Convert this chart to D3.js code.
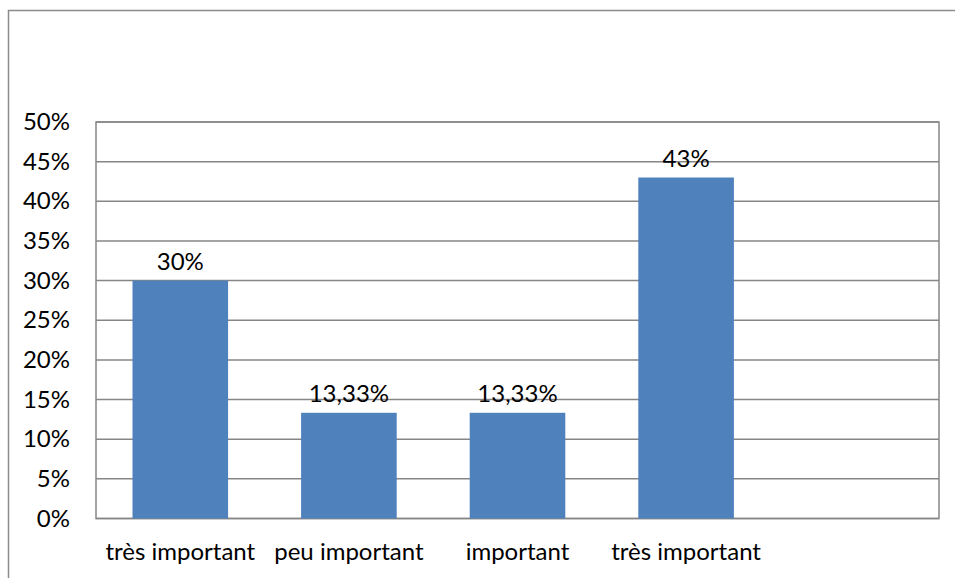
<!DOCTYPE html>
<html>
<head>
<meta charset="utf-8">
<script src="https://cdn.jsdelivr.net/npm/d3@7"></script>
<style>
  html, body { margin: 0; padding: 0; background: #fff; }
  svg { display: block; }
  text { font-family: Lato, "Open Sans", sans-serif; fill: #000; }
</style>
</head>
<body>
<svg id="chart" width="955" height="578"></svg>
<script>
// Response shares by level of importance (last slot is left empty)
const categories = ["très important", "peu important", "important", "très important", ""];
const values = [30, 13.33, 13.33, 43, null];
const valueLabels = ["30%", "13,33%", "13,33%", "43%", ""];
const yTicks = [0, 5, 10, 15, 20, 25, 30, 35, 40, 45, 50];

const FONT = "Lato, 'Open Sans', sans-serif";
const FONT_SIZE = "24px";

const svg = d3.select("#chart");
const plot = { left: 96, right: 939, top: 122, bottom: 518.5 };

// Outer frame (runs off the right and bottom edges)
svg.append("rect")
  .attr("x", 8.5).attr("y", 10.5)
  .attr("width", 980).attr("height", 620)
  .attr("fill", "none")
  .attr("stroke", "#8c8c8c")
  .attr("stroke-width", 1.5);

const x = d3.scaleBand()
  .domain(d3.range(categories.length))
  .range([plot.left, plot.right])
  .padding(0);

const y = d3.scaleLinear()
  .domain([0, 50])
  .range([plot.bottom, plot.top]);

const barW = x.step() * 0.567;

// Horizontal gridlines
svg.append("g")
  .selectAll("line")
  .data(yTicks)
  .join("line")
  .attr("x1", plot.left).attr("x2", plot.right)
  .attr("y1", d => y(d)).attr("y2", d => y(d))
  .attr("stroke", "#868686")
  .attr("stroke-width", 1.5);

// Plot-area border
svg.append("rect")
  .attr("x", plot.left).attr("y", plot.top)
  .attr("width", plot.right - plot.left)
  .attr("height", plot.bottom - plot.top)
  .attr("fill", "none")
  .attr("stroke", "#868686")
  .attr("stroke-width", 1.5);

// Y-axis tick labels
const yAxis = d3.axisLeft(y)
  .tickValues(yTicks)
  .tickFormat(d => d + "%")
  .tickSize(0)
  .tickPadding(26);
const gy = svg.append("g")
  .attr("transform", `translate(${plot.left},0)`)
  .call(yAxis);
gy.select(".domain").remove();
gy.selectAll("text")
  .style("font-family", FONT)
  .style("font-size", FONT_SIZE)
  .attr("fill", "#000");

// Bars
const barData = values.map((v, i) => ({ v, i })).filter(d => d.v != null);
svg.append("g")
  .selectAll("rect")
  .data(barData)
  .join("rect")
  .attr("x", d => x(d.i) + (x.step() - barW) / 2)
  .attr("y", d => y(d.v))
  .attr("width", barW)
  .attr("height", d => y(0) - y(d.v))
  .attr("fill", "#4f81bd");

// Value labels above the bars
svg.append("g")
  .selectAll("text")
  .data(barData)
  .join("text")
  .attr("x", d => x(d.i) + x.step() / 2)
  .attr("y", d => y(d.v) - 11)
  .attr("text-anchor", "middle")
  .style("font-family", FONT)
  .style("font-size", FONT_SIZE)
  .text(d => valueLabels[d.i]);

// Category labels
const xAxis = d3.axisBottom(x)
  .tickFormat(i => categories[i])
  .tickSize(0)
  .tickPadding(24);
const gx = svg.append("g")
  .attr("transform", `translate(0,${plot.bottom})`)
  .call(xAxis);
gx.select(".domain").remove();
gx.selectAll("text")
  .style("font-family", FONT)
  .style("font-size", FONT_SIZE)
  .attr("fill", "#000");
</script>
</body>
</html>
